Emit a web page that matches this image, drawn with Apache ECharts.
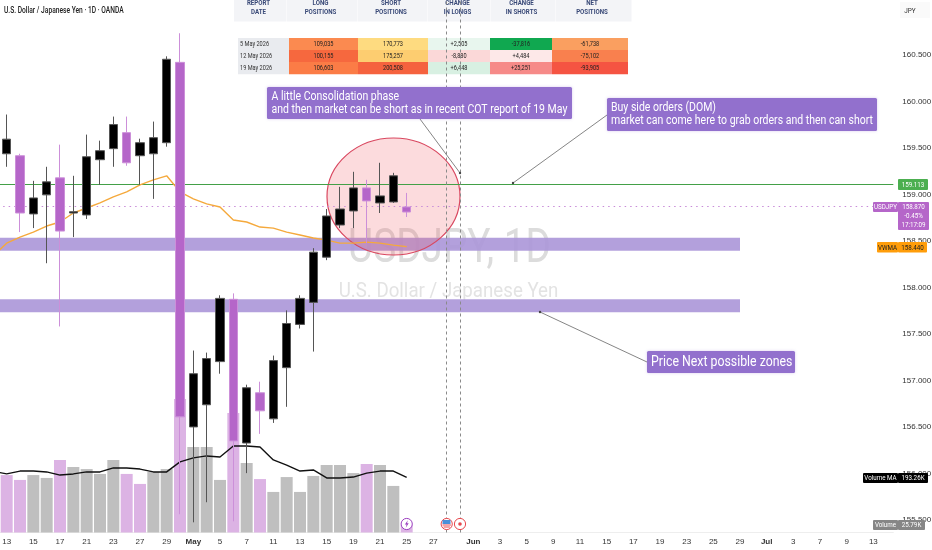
<!DOCTYPE html>
<html><head><meta charset="utf-8">
<script src="https://cdn.jsdelivr.net/npm/echarts@6/dist/echarts.min.js"></script>
<style>html,body{margin:0;padding:0;background:#fff}#c{width:932px;height:550px}</style>
</head><body><div id="c"></div>
<script>
// first category is the session just left of the visible window: only the two moving averages reach it
const tickLabels=['','13','','15','','17','','21','','23','','27','','29','','May','','5','','7','','11','','13','','15','','19','','21','','25','','27','','','Jun','','3','','5','','9','','11','','15','','17','','19','','23','','25','','29','','Jul','','3','','7','','9','','13',''];
const priceTicks=[160.5,160,159.5,159,158.5,158,157.5,157,156.5,156,155.5];
const opens =['-',159.438,159.417,158.791,158.996,159.179,158.801,158.780,159.374,159.493,159.665,159.417,159.438,159.557,160.421,156.501,156.739,157.203,157.873,156.328,156.868,156.588,157.138,157.603,157.840,158.326,158.672,158.823,159.071,158.909,158.920,158.866];
const closes=['-',159.595,158.801,158.963,159.136,158.607,158.815,159.406,159.471,159.752,159.341,159.557,159.611,160.454,156.609,157.073,157.236,157.883,156.350,156.922,156.674,157.214,157.613,157.883,158.380,158.769,158.844,159.071,158.931,158.985,159.201,158.812];
const lows  =['-',159.298,158.596,158.639,158.261,157.581,158.542,158.737,159.104,159.298,159.309,159.104,158.953,159.514,155.562,155.475,155.691,157.073,155.486,156.004,156.426,156.544,156.717,157.559,157.311,158.294,158.639,158.639,158.477,158.801,158.909,158.758];
const highs =['-',159.860,159.438,159.147,159.298,159.536,159.201,159.644,159.579,159.838,159.838,159.600,159.784,160.486,160.734,157.322,157.300,157.916,157.937,156.955,156.987,157.268,157.754,157.916,158.423,158.844,159.082,159.244,159.158,159.341,159.233,159.017];
const vwma  =[158.340,158.477,158.542,158.596,158.661,158.704,158.801,158.855,158.909,158.974,159.028,159.104,159.158,159.201,159.028,158.953,158.899,158.866,158.726,158.704,158.650,158.639,158.596,158.564,158.532,158.510,158.477,158.477,158.488,158.477,158.456,158.440];
const volumes=['-',201,184,201,191,254,229,222,205,254,205,170,212,222,467,299,299,184,418,243,187,142,194,142,198,236,236,208,240,236,163,25.79];
const volumeDown=[0,1,1,0,0,1,0,0,0,0,1,1,0,0,1,0,0,0,1,0,1,0,0,0,0,0,0,0,1,0,0,1];
const volumeMA=[214,205,215,215,212,201,205,212,212,226,226,222,212,212,247,261,268,264,303,303,299,254,236,215,219,191,191,194,208,215,215,193.26];
const zoneTops=[158.535,157.873];
const zoneBottoms=[158.394,157.735];
const zoneEndIndex=56;
const resistance=159.113, lastPrice=158.870, lastVwma=158.440;
const eventIndexes=[34,35];
const cotHeaders=['REPORT\nDATE','LONG\nPOSITIONS','SHORT\nPOSITIONS','CHANGE\nIN LONGS','CHANGE\nIN SHORTS','NET\nPOSITIONS'];
const cotDates=['5 May 2026','12 May 2026','19 May 2026'];
const cotLong=['109,035','100,155','106,603'];
const cotShort=['170,773','175,257','200,508'];
const cotChgLong=['+2,505','-8,880','+6,448'];
const cotChgShort=['-37,816','+4,484','+25,251'];
const cotNet=['-61,738','-75,102','-93,905'];
const cotColors=[
 ['#e9ebef','#fb8a50','#fedb80','#e8f6ee','#10a850','#fa9f60'],
 ['#e9ebef','#f6683e','#fdcd70','#fbd8d8','#fde8e8','#f9804e'],
 ['#e9ebef','#fb7c46','#f5623e','#d8f0e2','#f68a88','#f55442']];

const PURPLE='#b566c9', BOX='#9270cd', F='Roboto, sans-serif', NARROW='"Liberation Sans Narrow","Liberation Sans",sans-serif';
const g=[];
function txt(x,y,text,size,fill,opt){opt=opt||{};
 return {type:'text',x,y,scaleX:opt.sx||0.8,z:opt.z||20,silent:true,style:{text,fill,font:(opt.w||'normal')+' '+size+'px '+(opt.f||F),textAlign:opt.a||'center',textVerticalAlign:'middle',lineHeight:opt.lh}};}
function rect(x,y,w,h,fill,opt){opt=opt||{};return {type:'rect',z:opt.z||19,silent:true,shape:{x,y,width:w,height:h,r:opt.r||0},style:{fill,shadowBlur:opt.sb||0,shadowColor:opt.sc}};}
function seg(x1,y1,x2,y2){g.push({type:'line',z:18,silent:true,shape:{x1,y1,x2,y2},style:{stroke:'#777',lineWidth:0.9}});g.push({type:'circle',z:18,silent:true,shape:{cx:x2,cy:y2,r:1.2},style:{fill:'#444'}});}

// title & watermark
g.push(txt(4,10.5,'U.S. Dollar / Japanese Yen · 1D · OANDA',9,'#222',{a:'left',sx:0.74,w:'500'}));
g.push(txt(449.5,250,'USDJPY, 1D',49,'#dcdcdc',{z:1,sx:0.79}));
g.push(txt(448.5,292,'U.S. Dollar / Japanese Yen',21,'#e3e3e3',{z:1,sx:0.89}));

// COT table
const colX=[234,287,358,428,491,556,632];
cotHeaders.forEach((h,i)=>{
 g.push(rect(colX[i],0,colX[i+1]-colX[i]-0.5,21.5,'#f3f4f7',{z:3}));
 g.push(txt((colX[i]+colX[i+1])/2-2,8,h,7,'#3a4a78',{w:'bold',lh:8.6,sx:0.88,z:4}));
});
const rowX=[238,289,358,428,490,552,628];
cotDates.forEach((d,r)=>{
 const cells=[d,cotLong[r],cotShort[r],cotChgLong[r],cotChgShort[r],cotNet[r]];
 const y=38+r*12;
 cells.forEach((t,c)=>{
  g.push(rect(rowX[c],y,rowX[c+1]-rowX[c],12.2,cotColors[r][c],{z:3}));
  if(c===0) g.push(txt(240,y+6.2,t,7,'#333',{a:'left',sx:0.8,z:4}));
  else g.push(txt((rowX[c]+rowX[c+1])/2,y+6.2,t,7,'#222',{sx:0.8,z:4}));
 });
});

// highlight ellipse
g.push({type:'ellipse',z:5,silent:true,shape:{cx:393.5,cy:196.5,rx:66.5,ry:58.5},style:{fill:'rgba(240,90,100,0.22)',stroke:'#d9475f',lineWidth:1.2}});

// callouts
seg(420,119,460,173); seg(607,115,513,183); seg(647,362,540,312);
function callout(x,y,w,h,lines,size,tx,lh,sx){
 g.push(rect(x,y,w,h,BOX,{r:1.5,sb:3,sc:'rgba(146,112,205,0.35)'}));
 lines.forEach((l,i)=>g.push(txt(tx,y+h/2+(i-(lines.length-1)/2)*lh,l,size,'#fff',{a:'left',sx,z:21})));
}
callout(267,87,305,32,['A little Consolidation phase','and then market can be short as in recent COT report of 19 May'],12.5,271.5,12.8,0.84);
callout(607,98,270,33,['Buy side orders (DOM)','market can come here to grab orders and then can short'],12.5,611,12.8,0.84);
callout(647,351,148,22,['Price Next possible zones'],14.5,651,0,0.85);

// price tags
function tag(x,w,y,h,bg,t,col,size){g.push(rect(x,y,w,h,bg,{r:1}));g.push(txt(x+w/2,y+h/2+0.3,t,size||8,col,{sx:0.78,z:21}));}
g.push(rect(900,2,30,16,'#fafafa',{z:3}));
g.push(txt(910,11,'JPY',8,'#333',{sx:0.8}));
tag(898,30,179,11,'#4caf50','159.113','#fff');
g.push(rect(898,202,31,28,PURPLE,{r:1}));
['158.870','-0.45%','17:17:09'].forEach((t,i)=>g.push(txt(913.5,207.3+i*9,t,8,'#fff',{sx:0.78,z:21})));
tag(873,25,202,10,PURPLE,'USDJPY','#fff');
tag(877,21,242,10.5,'#ff9d0a','VWMA','#222');
tag(898,29,242,10.5,'#ff9d0a','158.440','#222');
tag(863,35,473,10,'#000','Volume MA','#fff');
tag(898,30,473,10,'#000','193.26K','#fff');
tag(873,25,520,10,'#868686','Volume','#fff');
tag(898,27,520,10,'#868686','25.79K','#fff');

// event icons
function ring(cx,col){g.push({type:'circle',z:15,silent:true,shape:{cx,cy:524,r:5.6},style:{fill:'#fff',stroke:col,lineWidth:1}});}
ring(406.7,'#9c3fc0');
g.push({type:'polygon',z:16,silent:true,shape:{points:[[407.8,520.3],[404.9,524.6],[406.6,524.6],[405.8,527.8],[408.7,523.3],[407,523.3]]},style:{fill:'#9c3fc0'}});
ring(446.7,'#e8484e');
g.push({type:'rect',z:16,silent:true,shape:{x:442.5,y:520,width:8,height:4},style:{fill:'#4a90d9'}});
g.push({type:'rect',z:16,silent:true,shape:{x:442.5,y:524.5,width:8.4,height:1},style:{fill:'#e8484e'}});
g.push({type:'rect',z:16,silent:true,shape:{x:443.5,y:526.5,width:6.4,height:1},style:{fill:'#e8484e'}});
ring(460,'#e8484e');
g.push({type:'circle',z:16,silent:true,shape:{cx:460,cy:524,r:1.8},style:{fill:'#e8484e'}});

const chart=echarts.init(document.getElementById('c'),null,{renderer:'canvas'});
chart.setOption({
 animation:false,backgroundColor:'#fff',
 graphic:{elements:g},
 grid:{left:-13.33,top:0,right:38.67,bottom:17.5,containLabel:false,outerBoundsMode:'none'},
 xAxis:{type:'category',data:tickLabels.map((t,i)=>i+':'+t),boundaryGap:true,
  axisLine:{lineStyle:{color:'#eee'}},axisTick:{show:false},splitLine:{show:false},
  axisLabel:{interval:0,margin:5,fontFamily:NARROW,fontSize:8,color:'#333',hideOverlap:false,
   formatter:(v)=>{const t=v.split(':')[1];return /[A-Z]/.test(t)?'{m|'+t+'}':t;},
   rich:{m:{fontFamily:NARROW,fontSize:8,fontWeight:'bold',color:'#333'}}}},
 yAxis:[
  {type:'value',position:'right',min:155.3656,max:161.0914,
   axisLine:{show:false},splitLine:{show:false},
   axisTick:{show:false,customValues:priceTicks},
   axisLabel:{customValues:priceTicks,margin:9,fontFamily:NARROW,fontSize:8,color:'#333',formatter:v=>v.toFixed(3),showMinLabel:true,showMaxLabel:true}},
  {type:'value',min:0,max:1863.75,show:false}
 ],
 series:[
  {name:'Volume',type:'bar',yAxisIndex:1,barWidth:12,z:2,
   data:volumes.map((v,i)=>({value:v,itemStyle:{color:volumeDown[i]?'#dcb3e4':'#bfbfbf'}}))},
  {name:'Zones',type:'custom',z:3,clip:true,
   data:zoneTops.map((t,i)=>[zoneEndIndex,t,zoneBottoms[i]]),encode:{x:0,y:[1,2]},
   renderItem:(p,api)=>{
     const a=api.coord([api.value(0),api.value(1)]),b=api.coord([api.value(0),api.value(2)]);
     return {type:'rect',shape:{x:p.coordSys.x,y:a[1],width:a[0]-p.coordSys.x,height:b[1]-a[1]},style:{fill:'#ab96d8',opacity:0.9}};
   }},
  {name:'Volume MA',type:'line',yAxisIndex:1,z:4,data:volumeMA,symbol:'none',lineStyle:{color:'#111',width:1.4}},
  {name:'VWMA',type:'line',z:5,data:vwma,symbol:'none',lineStyle:{color:'#f5a93c',width:1.4}},
  {name:'USDJPY',type:'candlestick',z:6,barWidth:9,
   data:opens.map((o,i)=>[o,closes[i],lows[i],highs[i]]),
   itemStyle:{color:'#000',color0:PURPLE,borderColor:'#555',borderColor0:'#cc8fd9',borderWidth:1},
   markLine:{silent:true,symbol:'none',label:{show:false},animation:false,data:[
     {yAxis:resistance,lineStyle:{color:'#43a047',width:1,type:'solid'}},
     {yAxis:lastPrice,lineStyle:{color:'#c88bd8',width:1,type:[1.5,4]}},
     ...eventIndexes.map(i=>({xAxis:i,lineStyle:{color:'#8a8a8a',width:1,type:[3,3]}}))
   ]}}
 ]
});
</script></body></html>
